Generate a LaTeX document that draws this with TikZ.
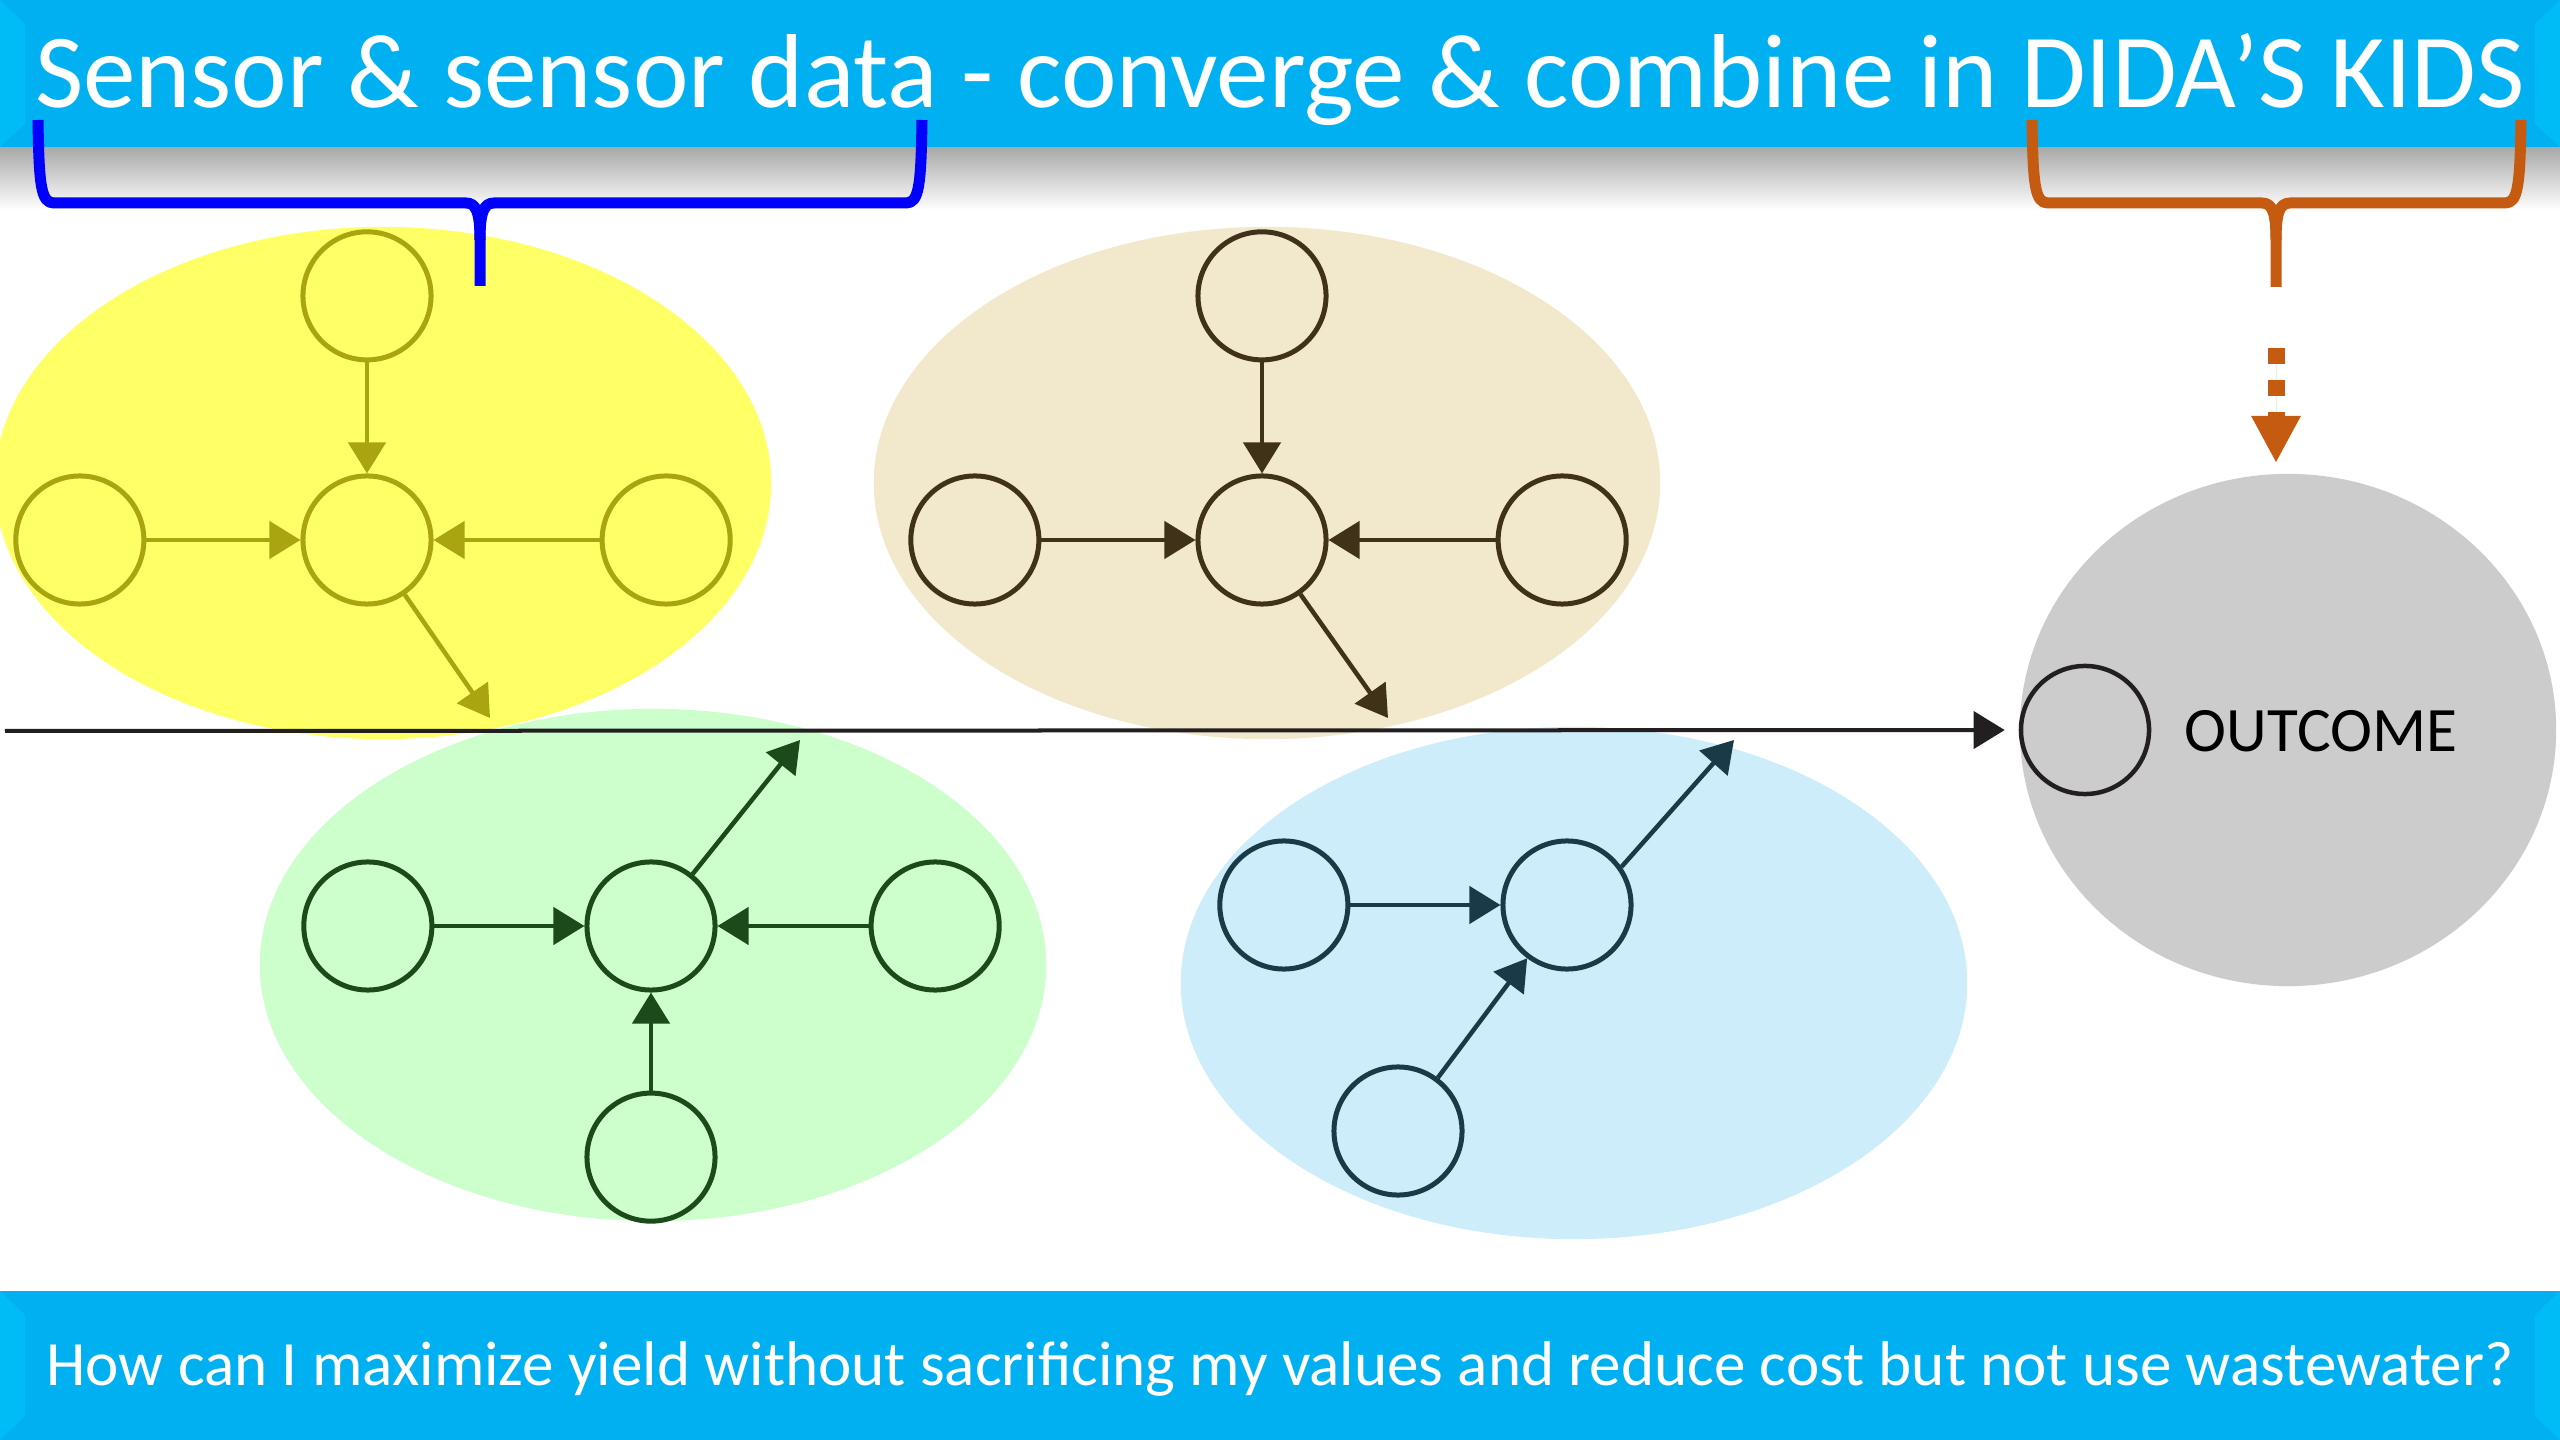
\documentclass[tikz,border=0pt]{standalone}
\usepackage{fontspec}
\setmainfont{Carlito}
\usepackage{xcolor}
\usetikzlibrary{arrows.meta,positioning,shapes.geometric}
\definecolor{bandblue}{HTML}{00B0F0}
\definecolor{bandedge}{HTML}{00FFFF}
\definecolor{bandside}{HTML}{00BCF6}
\definecolor{yfill}{HTML}{FFFF66}
\definecolor{yline}{HTML}{A8A510}
\definecolor{tfill}{HTML}{F2E8CC}
\definecolor{tline}{HTML}{3F3218}
\definecolor{gfill}{HTML}{CCFFCC}
\definecolor{gline}{HTML}{1D4A1B}
\definecolor{bfill}{HTML}{CCEDF9}
\definecolor{bline}{HTML}{1B3A47}
\definecolor{ofill}{HTML}{CCCCCC}
\definecolor{lineblack}{HTML}{231F20}
\definecolor{braceblue}{HTML}{0000FF}
\definecolor{braceorange}{HTML}{C55A11}
\pgfdeclareverticalshading{bandshade}{100bp}{color(0bp)=(bandedge); color(17bp)=(bandblue);
  color(84bp)=(bandblue); color(100bp)=(bandedge)}

\begin{document}
\begin{tikzpicture}[x=0.01cm,y=-0.01cm,
                    >={Triangle[length=0.31cm,width=0.37cm]},
                    zone/.style={ellipse,fill=#1,minimum width=7.86cm,minimum height=5.12cm,inner sep=0},
                    sens/.style={circle,draw=#1,line width=0.05cm,minimum size=1.28cm,inner sep=0},
                    link/.style={->,draw=#1,fill=#1,line width=0.045cm},
                    curly/.style={draw=#1,line width=0.11cm,line join=round}]
\useasboundingbox (0,0) rectangle (2560,1440);
\fill[white] (0,0) rectangle (2560,1440);
% shadow under the title band
\shade[top color=black!34,bottom color=white] (0,147) rectangle (2560,210);

% the four sensor groups
\node[zone=gfill] (gzone) at (653,965) {};
\node[zone=bfill] (bzone) at (1574,983) {};
\node[zone=yfill,minimum width=7.76cm] (yzone) at (383,483) {};
\node[zone=tfill] (tzone) at (1267,483) {};
\node[ellipse,fill=ofill,minimum width=5.36cm,minimum height=5.12cm,inner sep=0] (ozone) at (2288,730) {};

% outcome
\node[sens=lineblack,line width=0.045cm] (out) at (2085,730) {};
\node[font=\fontsize{18}{22}\selectfont] (outlbl) at (2321,731) {OUTCOME};
\coordinate (start) at (5,731);
\draw[link=lineblack,line width=0.04cm,shorten >=0.14cm] (start) -- (out);

% yellow
\node[sens=yline] (yc) at (367,540) {};
\node[sens=yline,above=1.11cm of yc] (yt) {};
\node[sens=yline,left=1.54cm of yc]  (yl) {};
\node[sens=yline,right=1.66cm of yc] (yr) {};
\coordinate (yout) at (490,718);
\draw[link=yline] (yt) -- (yc);
\draw[link=yline] (yl) -- (yc);
\draw[link=yline] (yr) -- (yc);
\draw[link=yline] (yc) -- (yout);

% tan
\node[sens=tline] (tc) at (1262,540) {};
\node[sens=tline,above=1.11cm of tc] (tt) {};
\node[sens=tline,left=1.54cm of tc]  (tl) {};
\node[sens=tline,right=1.67cm of tc] (tr) {};
\coordinate (tout) at (1388,718);
\draw[link=tline] (tt) -- (tc);
\draw[link=tline] (tl) -- (tc);
\draw[link=tline] (tr) -- (tc);
\draw[link=tline] (tc) -- (tout);

% green
\node[sens=gline] (gc) at (651,926) {};
\node[sens=gline,below=0.98cm of gc] (gb) {};
\node[sens=gline,left=1.5cm of gc]   (gl) {};
\node[sens=gline,right=1.51cm of gc] (gr) {};
\coordinate (gout) at (800,740);
\draw[link=gline] (gb) -- (gc);
\draw[link=gline] (gl) -- (gc);
\draw[link=gline] (gr) -- (gc);
\draw[link=gline] (gc) -- (gout);

% blue
\node[sens=bline] (bc) at (1567,905) {};
\node[sens=bline,left=1.5cm of bc] (bl) {};
\node[sens=bline] (bb) at (1398,1131) {};
\coordinate (bout) at (1734,740);
\draw[link=bline] (bl) -- (bc);
\draw[link=bline] (bb) -- (bc);
\draw[link=bline] (bc.35) -- (bout);

% title band
\shade[shading=bandshade] (0,0) rectangle (2560,147);
\fill[bandside] (0,0) -- (25,24) -- (25,124) -- (0,147) -- cycle;
\fill[bandside] (2560,0) -- (2535,24) -- (2535,124) -- (2560,147) -- cycle;
\node[text=white,font=\fontsize{29.9}{36}\selectfont] (title) at (1280,79)
  {Sensor \& sensor data - converge \& combine in DIDA’S KIDS};

% question band
\shade[shading=bandshade] (0,1291) rectangle (2560,1440);
\fill[bandside] (0,1291) -- (25,1315) -- (25,1416) -- (0,1440) -- cycle;
\fill[bandside] (2560,1291) -- (2535,1315) -- (2535,1416) -- (2560,1440) -- cycle;
\node[text=white,font=\fontsize{17.95}{21}\selectfont] (question) at (1280,1369)
  {How can I maximize yield without sacrificing my values and reduce cost but not use wastewater?};

% braces
\draw[curly=braceblue] (38,120) .. controls (39,186) and (41,203) .. (54,203) -- (466,203)
  .. controls (476,203) and (480,212) .. (480,240) -- (480,286);
\draw[curly=braceblue] (922,120) .. controls (921,186) and (919,203) .. (906,203) -- (494,203)
  .. controls (484,203) and (480,212) .. (480,240);
\draw[curly=braceorange] (2032,120) .. controls (2033,186) and (2035,203) .. (2048,203) -- (2262,203)
  .. controls (2272,203) and (2276,212) .. (2276,240) -- (2276,287);
\draw[curly=braceorange] (2521,120) .. controls (2520,186) and (2518,203) .. (2505,203) -- (2290,203)
  .. controls (2280,203) and (2276,212) .. (2276,240);
\coordinate (otop) at (2276,348);
\coordinate (obot) at (2276,463);
\draw[draw=braceorange,fill=braceorange,line width=0.17cm,dash pattern=on 0.16cm off 0.16cm,
      -{Triangle[length=0.47cm,width=0.46cm]}] (otop) -- (obot);
\end{tikzpicture}
\end{document}
